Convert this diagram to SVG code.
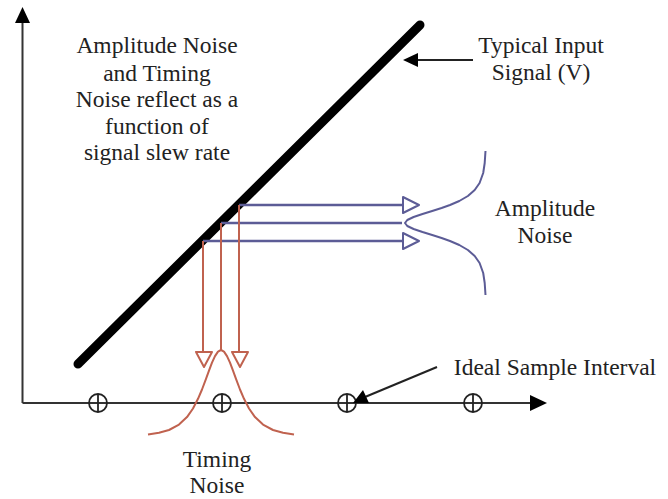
<svg xmlns="http://www.w3.org/2000/svg" width="668" height="499" viewBox="0 0 668 499">
<defs>
<style>
text{font-family:"Liberation Serif","Times New Roman",serif;font-size:23.5px;fill:#222;text-anchor:middle}
.axis{stroke:#333;stroke-width:2;fill:none}
.blue{stroke:#5c5c96;stroke-width:2.4;fill:none;stroke-linejoin:round}
.red{stroke:#c0624f;stroke-width:2;fill:none;stroke-linejoin:round}
.ah{fill:#fff}
.blk{fill:#000}
.circ{fill:none;stroke:#222;stroke-width:1.8}
</style>
</defs>
<rect width="668" height="499" fill="#fff"/>
<g id="axes">
<line class="axis" x1="22.5" y1="20" x2="22.5" y2="403"/>
<polygon class="blk" points="22.5,7 15,23 30,23"/>
<line class="axis" x1="22.5" y1="403" x2="533" y2="403"/>
<polygon class="blk" points="547,403 530,395 530,411"/>
</g>
<g id="samples">
<g id="s1"><circle class="circ" cx="98" cy="403" r="9"/><line class="circ" x1="98" y1="394" x2="98" y2="412"/></g>
<g id="s2"><circle class="circ" cx="222" cy="403" r="9"/><line class="circ" x1="222" y1="394" x2="222" y2="412"/></g>
<g id="s3"><circle class="circ" cx="347" cy="403" r="9"/><line class="circ" x1="347" y1="394" x2="347" y2="412"/></g>
<g id="s4"><circle class="circ" cx="473" cy="403" r="9"/><line class="circ" x1="473" y1="394" x2="473" y2="412"/></g>
</g>
<g id="signal">
<line x1="78" y1="364" x2="420" y2="25" stroke="#000" stroke-width="9" stroke-linecap="round"/>
</g>
<g id="amplitude-noise-curve">
<path class="blue" style="stroke-width:2" d="M485.5,151 L484.7,163 483.2,173 479.6,183 474.7,190 467.9,196 459.3,201 450,205 441.6,208 432.2,211 422.5,214 413.6,217 407.3,220 405,223 407.3,226 413.6,229 422.5,232 432.2,235 441.6,238 450,241 459.3,245 467.9,250 474.7,256 479.6,263 483.2,273 484.7,283 485.5,295"/>
</g>
<g id="timing-noise-curve">
<path class="red" d="M148,434.5 L159,432.8 169,430 179,424.6 187,417.1 193,408.5 198,398.8 202,389.5 206,378.9 209,370.6 212,362.7 215,356.1 218,351.6 221,350 224,351.6 227,356.1 230,362.7 233,370.6 236,378.9 240,389.5 244,398.8 249,408.5 255,417.1 263,424.6 273,430 283,432.8 294,434.5"/>
</g>
<g id="connectors">
<line class="blue" x1="239" y1="205" x2="403" y2="205"/>
<polygon class="blue ah" style="stroke-width:2" points="403,197 419,205 403,213"/>
<line class="blue" x1="221" y1="223" x2="402" y2="223"/>
<line class="blue" x1="203" y1="241" x2="403" y2="241"/>
<polygon class="blue ah" style="stroke-width:2" points="403,233 419,241 403,249"/>
<line class="red" x1="203" y1="241" x2="203" y2="352"/>
<polygon class="red ah" points="196,352 212,352 204,367"/>
<line class="red" x1="221" y1="223" x2="221" y2="350"/>
<line class="red" x1="239" y1="205" x2="239" y2="352"/>
<polygon class="red ah" points="232,352 248,352 240,367"/>
<line x1="473" y1="60" x2="415" y2="60" stroke="#222" stroke-width="2"/>
<polygon class="blk" points="403,60 418,53 418,67"/>
<line x1="437" y1="367" x2="365" y2="397" stroke="#222" stroke-width="2"/>
<polygon class="blk" points="353,403 363,390 369,403"/>
</g>
<g id="label-main">
<text x="157" y="53">Amplitude Noise</text>
<text x="157" y="81">and Timing</text>
<text x="157" y="107">Noise reflect as a</text>
<text x="157" y="134">function of</text>
<text x="157" y="160">signal slew rate</text>
</g>
<g id="label-signal">
<text x="541" y="53">Typical Input</text>
<text x="541" y="80">Signal (V)</text>
</g>
<g id="label-amplitude">
<text x="545" y="216">Amplitude</text>
<text x="545" y="243">Noise</text>
</g>
<g id="label-ideal">
<text x="555" y="375">Ideal Sample Interval</text>
</g>
<g id="label-timing">
<text x="217" y="467">Timing</text>
<text x="217" y="493">Noise</text>
</g>
</svg>
